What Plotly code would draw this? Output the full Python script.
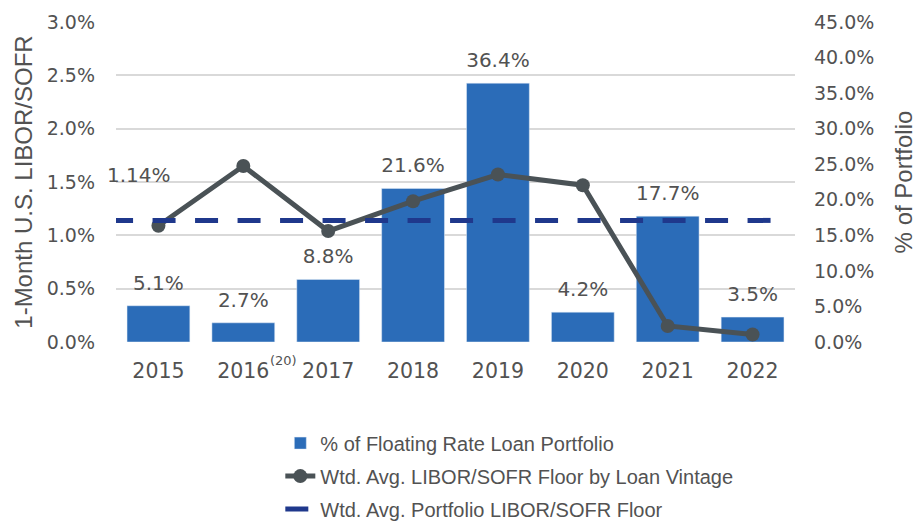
import plotly.graph_objects as go

# ---- data ----
years = ["2015", "2016", "2017", "2018", "2019", "2020", "2021", "2022"]
pct_of_portfolio = [5.1, 2.7, 8.8, 21.6, 36.4, 4.2, 17.7, 3.5]          # right axis (%)
floor_by_vintage = [1.09, 1.65, 1.04, 1.32, 1.57, 1.47, 0.15, 0.07]      # left axis (%)
portfolio_floor = 1.14                                                   # left axis (%)
portfolio_floor_label = "1.14%"
footnote_year = "2016"
footnote_text = "(20)"

left_ticks = [0, 0.5, 1.0, 1.5, 2.0, 2.5, 3.0]
right_ticks = [0, 5, 10, 15, 20, 25, 30, 35, 40, 45]

# ---- styles ----
BAR = "#2B6CB8"
LINE = "#4A5256"
DASH = "#1F388C"
TXT = "#525252"
GRID = "#D9D9D9"
NUM_FONT = "DejaVu Sans"
TXT_FONT = "Liberation Sans"

fig = go.Figure()

# bars on the primary (right-side) axis so that the lines on the overlay draw above them
fig.add_trace(go.Bar(
    x=years, y=pct_of_portfolio, xaxis="x", yaxis="y", marker_color=BAR,
    name="% of Floating Rate Loan Portfolio", legendgroup="a",
))
fig.add_trace(go.Scatter(
    x=years, y=floor_by_vintage, xaxis="x", yaxis="y2", mode="lines+markers",
    line=dict(color=LINE, width=5), marker=dict(color=LINE, size=14),
    name="Wtd. Avg. LIBOR/SOFR Floor by Loan Vintage", legendgroup="b",
))
n = len(years)
fig.add_trace(go.Scatter(
    x=[-0.57, n - 0.69], y=[portfolio_floor, portfolio_floor], xaxis="x2", yaxis="y3",
    mode="lines", line=dict(color=DASH, width=5, dash="23px,19.5px"),
    name="Wtd. Avg. Portfolio LIBOR/SOFR Floor", legendgroup="c",
))

# bar value labels as a text trace (transparent markers push the text up)
fig.add_trace(go.Scatter(
    x=years, y=pct_of_portfolio, xaxis="x", yaxis="y", mode="markers+text",
    marker=dict(size=16, opacity=0),
    text=[f"{v:.1f}%" for v in pct_of_portfolio], textposition="top center",
    textfont=dict(family=NUM_FONT, size=20, color=TXT), showlegend=False,
    hoverinfo="skip", cliponaxis=False,
))

idx_first = 0
idx_foot = years.index(footnote_year)
annotations = [
    dict(x=idx_first, y=portfolio_floor, xref="x2", yref="y3", text=portfolio_floor_label,
         showarrow=False, xshift=-19, yshift=45, yanchor="middle", xanchor="center",
         font=dict(family=NUM_FONT, size=20, color=TXT)),
    dict(x=idx_foot, y=0, xref="x2", yref="paper", text=footnote_text,
         showarrow=False, xshift=40, yshift=-18, yanchor="middle", xanchor="center",
         font=dict(family=NUM_FONT, size=13, color=TXT)),
]

fig.update_layout(
    width=917, height=521,
    margin=dict(l=116, r=122, t=22, b=179, autoexpand=False),
    paper_bgcolor="white", plot_bgcolor="white",
    bargap=0.26,
    showlegend=True,
    legend=dict(
        x=0.242, xanchor="left", y=-0.255, yanchor="top",
        font=dict(family=TXT_FONT, size=20, color=TXT),
        traceorder="grouped", tracegroupgap=4, bgcolor="rgba(0,0,0,0)",
    ),
    xaxis=dict(
        type="category", range=[-0.5, n - 0.5], showgrid=False, zeroline=False,
        showline=False, ticks="", tickfont=dict(family=NUM_FONT, size=20.5, color=TXT),
        ticklabelstandoff=14,
    ),
    xaxis2=dict(overlaying="x", range=[-0.5, n - 0.5], visible=False),
    yaxis=dict(
        side="right", range=[0, 45], tickvals=right_ticks,
        ticktext=[f"{t:.1f}%" for t in right_ticks],
        showgrid=False, zeroline=False, showline=False, ticks="",
        tickfont=dict(family=NUM_FONT, size=19, color=TXT),
        ticklabelstandoff=18,
        title=dict(text="% of Portfolio", standoff=23,
                   font=dict(family=TXT_FONT, size=24, color=TXT)),
    ),
    yaxis2=dict(
        overlaying="y", side="left", range=[0, 3.0], tickvals=left_ticks,
        ticktext=[f"{t:.1f}%" for t in left_ticks],
        showgrid=True, gridcolor=GRID, gridwidth=1.5, zeroline=False, showline=False,
        ticks="", tickfont=dict(family=NUM_FONT, size=19, color=TXT),
        ticklabelstandoff=20,
        title=dict(text="1-Month U.S. LIBOR/SOFR", standoff=7,
                   font=dict(family=TXT_FONT, size=24, color=TXT)),
    ),
    yaxis3=dict(overlaying="y", range=[0, 3.0], visible=False),
    annotations=annotations,
)

fig.write_html("out.html", config={"displayModeBar": False},
               post_script="document.body.style.margin='0';")
